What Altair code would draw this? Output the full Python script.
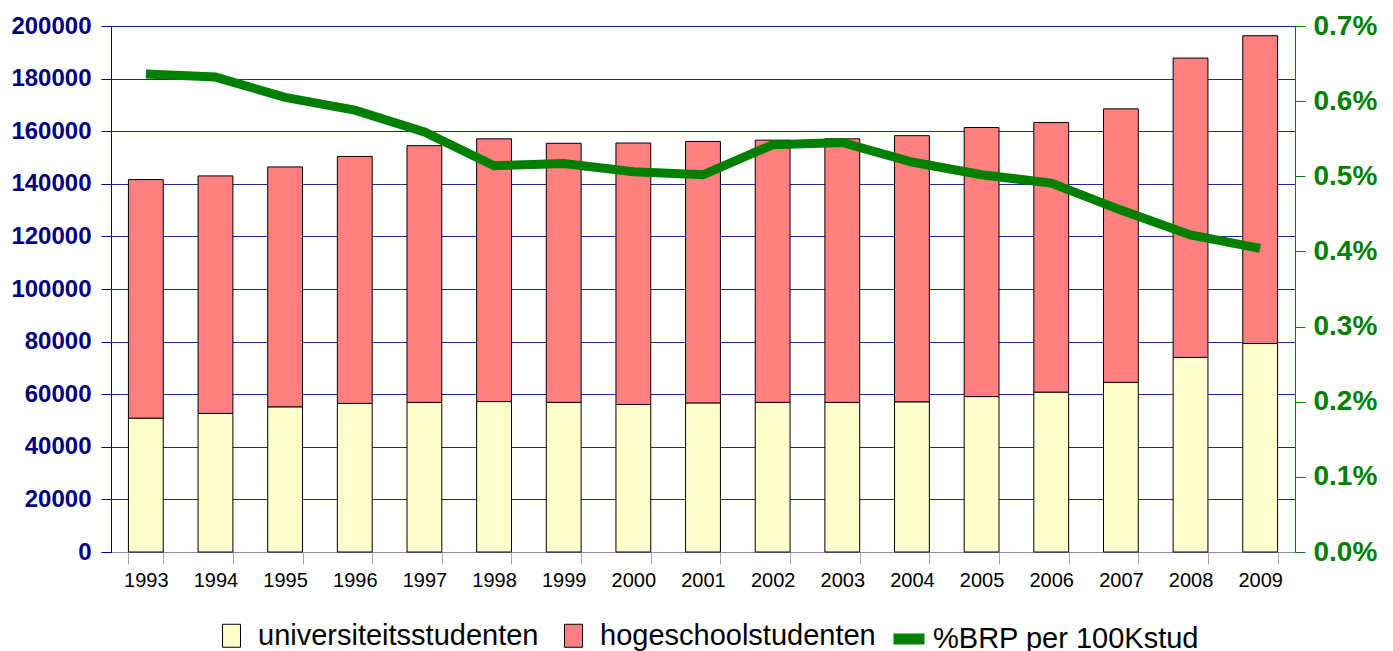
import altair as alt
import pandas as pd

jaren = [str(y) for y in range(1993, 2010)]
universiteitsstudenten = [50900, 52700, 55200, 56500, 56900, 57200, 56900, 56100, 56700,
                          56900, 56900, 57100, 59100, 60800, 64500, 74000, 79300]
hogeschoolstudenten = [90700, 90300, 91200, 93900, 97600, 99900, 98500, 99400, 99400,
                       99700, 100200, 101200, 102300, 102500, 104000, 113800, 117000]
brp_pct = [0.636, 0.632, 0.605, 0.588, 0.559, 0.514, 0.517, 0.506, 0.502,
           0.542, 0.545, 0.519, 0.502, 0.491, 0.455, 0.422, 0.404]

serie_namen = ["universiteitsstudenten", "hogeschoolstudenten"]
serie_kleuren = ["#FFFFCC", "#FF8080"]
lijn_naam = "%BRP per 100Kstud"
links_ticks = list(range(0, 200001, 20000))
rechts_ticks = [0.0, 0.1, 0.2, 0.3, 0.4, 0.5, 0.6, 0.7]

rows = []
for i, j in enumerate(jaren):
    rows.append({"jaar": j, "serie": serie_namen[0], "aantal": universiteitsstudenten[i], "volgorde": 0})
    rows.append({"jaar": j, "serie": serie_namen[1], "aantal": hogeschoolstudenten[i], "volgorde": 1})
df_bars = pd.DataFrame(rows)
df_lijn = pd.DataFrame({"jaar": jaren, "pct": brp_pct, "lijn": [lijn_naam] * len(jaren)})

FONT = "Liberation Sans"

x_enc = alt.X(
    "jaar:N", sort=jaren, title=None,
    scale=alt.Scale(paddingInner=0.5, paddingOuter=0.25),
    axis=alt.Axis(labelAngle=0, labelFont=FONT, labelFontSize=20, labelColor="black",
                  tickBand="extent", tickColor="#a8a8a8", tickSize=12,
                  domainColor="#8c8cb8", labelPadding=6, grid=False),
)

bars = alt.Chart(df_bars).mark_bar(stroke="black", strokeWidth=1).encode(
    x=x_enc,
    y=alt.Y("aantal:Q", stack="zero", title=None,
            scale=alt.Scale(domain=[0, 200000], nice=False),
            axis=alt.Axis(values=links_ticks, format="d", orient="left",
                          labelFont=FONT, labelFontSize=24, labelFontWeight="bold",
                          labelColor="#000080", tickColor="#000080", tickSize=10,
                          labelPadding=10, domainColor="#000080", grid=True,
                          gridColor="#000080", gridWidth=1, gridOpacity=0.85)),
    fill=alt.Fill("serie:N", sort=serie_namen,
                  scale=alt.Scale(domain=serie_namen, range=serie_kleuren),
                  legend=alt.Legend(orient="none", legendX=106, legendY=595,
                                    direction="horizontal", title=None,
                                    symbolType="M-0.78,-1H0.78V1H-0.78Z", symbolSize=529,
                                    symbolStrokeColor="black", symbolStrokeWidth=1,
                                    labelFont=FONT, labelFontSize=29, labelColor="black",
                                    labelOffset=12, columnPadding=20, labelLimit=0)),
    order=alt.Order("volgorde:Q", sort="ascending"),
)

lijn = alt.Chart(df_lijn).mark_line(strokeWidth=9, strokeCap="butt", strokeJoin="miter").encode(
    x=alt.X("jaar:N", sort=jaren),
    y=alt.Y("pct:Q", title=None,
            scale=alt.Scale(domain=[0, 0.7], nice=False),
            axis=alt.Axis(values=rechts_ticks, orient="right",
                          labelExpr="format(datum.value, '.1f') + '%'",
                          labelFont=FONT, labelFontSize=28, labelFontWeight="bold",
                          labelColor="#008000", tickColor="#008000", tickSize=10,
                          labelPadding=8, domainColor="#008000", grid=False)),
    stroke=alt.Stroke("lijn:N",
                      scale=alt.Scale(domain=[lijn_naam], range=["#008000"]),
                      legend=alt.Legend(orient="none", legendX=777, legendY=592, title=None,
                                        symbolType="stroke", symbolSize=961,
                                        symbolStrokeWidth=11, labelFont=FONT,
                                        labelFontSize=29, labelColor="black",
                                        labelOffset=3, labelLimit=0)),
)

chart = alt.layer(bars, lijn).resolve_scale(y="independent").properties(
    width=1184, height=526,
    padding={"left": 2, "top": 4, "right": 5, "bottom": 0},
).configure_view(strokeWidth=0).configure(background="white")

chart.save("out.html", embed_options={"renderer": "svg", "actions": False})
